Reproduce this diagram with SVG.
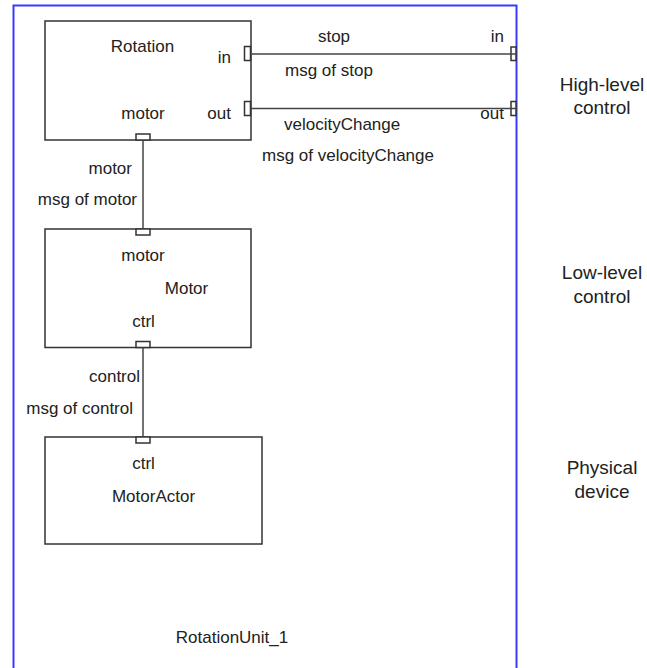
<svg xmlns="http://www.w3.org/2000/svg" width="647" height="668" viewBox="0 0 647 668">
<style>
.box{fill:#fff;stroke:#333;stroke-width:1.5}
.port{fill:#fff;stroke:#333;stroke-width:1.5}
.wire{stroke:#444;stroke-width:1.5;fill:none}
.t{font-family:"Liberation Sans",Arial,sans-serif;font-size:17px;fill:#222}
.m{text-anchor:middle}
.e{text-anchor:end}
.lay{font-family:"Liberation Sans",Arial,sans-serif;font-size:19px;fill:#222;text-anchor:middle}
</style>
<rect width="647" height="668" fill="#fff"/>
<g id="RotationUnit_1">
<rect x="13.5" y="5.5" width="503" height="670" fill="none" stroke="#3a3aff" stroke-width="2"/>
<text class="t m" x="232" y="643">RotationUnit_1</text>
</g>
<g id="Rotation">
<rect class="box" x="45" y="21" width="206" height="119"/>
<text class="t m" x="142.5" y="52">Rotation</text>
<text class="t e" x="231" y="63">in</text>
<text class="t e" x="231" y="119">out</text>
<text class="t m" x="143" y="119">motor</text>
<rect class="port" x="244.5" y="46.5" width="6" height="14"/>
<rect class="port" x="244.5" y="101.5" width="6" height="14"/>
<rect class="port" x="136" y="134" width="14" height="6"/>
</g>
<g id="Motor">
<rect class="box" x="45" y="229" width="206" height="118.5"/>
<text class="t m" x="143" y="261">motor</text>
<text class="t m" x="186.5" y="294">Motor</text>
<text class="t m" x="143.5" y="327">ctrl</text>
<rect class="port" x="136" y="229" width="14" height="6"/>
<rect class="port" x="136" y="341.5" width="14" height="6"/>
</g>
<g id="MotorActor">
<rect class="box" x="45" y="437" width="217" height="107"/>
<text class="t m" x="143.5" y="469">ctrl</text>
<text class="t m" x="153.5" y="502">MotorActor</text>
<rect class="port" x="136" y="437" width="14" height="6"/>
</g>
<g id="boundary-ports">
<rect class="port" x="511" y="47" width="5" height="13.5"/>
<rect class="port" x="511" y="101.5" width="5" height="14"/>
<text class="t e" x="504" y="42">in</text>
<text class="t e" x="504" y="119">out</text>
</g>
<g id="connectors">
<line class="wire" x1="250.5" y1="54" x2="516" y2="54"/>
<line class="wire" x1="250.5" y1="108.5" x2="516" y2="108.5"/>
<line class="wire" x1="143" y1="140" x2="143" y2="229"/>
<line class="wire" x1="143" y1="347.5" x2="143" y2="437"/>
<text class="t m" x="334" y="42">stop</text>
<text class="t" x="285" y="76">msg of stop</text>
<text class="t" x="284" y="130">velocityChange</text>
<text class="t" x="262" y="161">msg of velocityChange</text>
<text class="t e" x="132" y="174">motor</text>
<text class="t e" x="137" y="205">msg of motor</text>
<text class="t e" x="140" y="382">control</text>
<text class="t e" x="133" y="414">msg of control</text>
</g>
<g id="layers">
<text class="lay" x="602" y="91">High-level</text>
<text class="lay" x="602" y="114">control</text>
<text class="lay" x="602" y="279">Low-level</text>
<text class="lay" x="602" y="303">control</text>
<text class="lay" x="602" y="474">Physical</text>
<text class="lay" x="602" y="498">device</text>
</g>
</svg>
